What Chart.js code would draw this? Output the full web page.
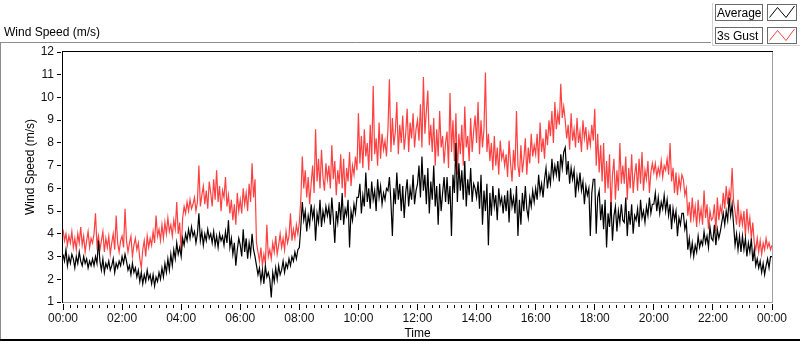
<!DOCTYPE html>
<html>
<head>
<meta charset="utf-8">
<script src="https://cdn.jsdelivr.net/npm/chart.js@4.4.1/dist/chart.umd.min.js"></script>
<style>
  html, body { margin:0; padding:0; background:#fff; overflow:hidden; }
  canvas { display:block; }
</style>
</head>
<body>
<canvas id="wind" width="800" height="342"></canvas>
<script>
// Wind speed over one day, one sample every 3 minutes (00:00 -> 24:00)
const STEP_MIN = 3;

// average wind speed (m/s), one row per hour
const avgSpeed = [
  3.1, 2.8, 3.3, 2.6, 3.0, 2.7, 3.1, 2.9, 2.5, 3.0, 2.7, 3.2, 2.8, 2.6, 3.0, 2.7, 2.9, 2.5, 2.8, 2.6,
  2.9, 2.6, 3.0, 2.7, 3.7, 2.8, 2.4, 2.9, 2.3, 2.7, 2.5, 2.8, 2.4, 2.6, 2.9, 2.3, 2.7, 2.5, 2.8, 2.6,
  3.0, 2.7, 3.1, 2.8, 2.4, 2.6, 2.2, 2.7, 2.3, 2.5, 2.1, 2.4, 1.9, 2.3, 1.8, 2.2, 1.9, 2.4, 2.0, 2.2,
  1.8, 2.2, 1.7, 2.1, 1.9, 2.3, 2.0, 2.5, 2.1, 2.7, 2.3, 2.9, 2.4, 3.1, 2.6, 3.3, 2.9, 3.6, 3.1, 3.4,
  3.0, 3.8, 3.5, 4.0, 3.7, 4.2, 3.8, 4.3, 3.9, 4.1, 3.6, 4.0, 4.9, 3.7, 4.1, 3.5, 4.0, 3.7, 4.2, 3.8,
  4.0, 3.6, 4.1, 3.5, 3.9, 3.4, 4.0, 3.7, 3.9, 3.5, 4.1, 3.6, 4.6, 3.4, 3.8, 3.1, 3.6, 2.6, 3.3, 3.8,
  3.5, 3.0, 4.2, 3.2, 3.8, 2.9, 3.6, 3.1, 4.0, 3.3, 3.0, 2.6, 2.2, 2.5, 1.9, 2.4, 1.8, 2.6, 2.1, 2.3,
  2.0, 1.2, 2.3, 1.9, 2.5, 2.0, 2.6, 2.2, 2.4, 2.8, 2.3, 2.7, 2.5, 2.9, 2.6, 3.0, 2.8, 3.2, 2.9, 3.3,
  3.4, 4.3, 5.4, 4.6, 5.0, 4.1, 4.8, 4.4, 5.3, 4.7, 5.1, 3.7, 4.9, 4.5, 5.5, 4.3, 5.0, 4.6, 5.2, 4.8,
  5.2, 4.4, 5.6, 4.7, 3.6, 5.0, 4.5, 5.4, 4.6, 5.8, 4.4, 5.1, 4.8, 5.5, 3.4, 5.0, 4.6, 5.3, 4.9, 5.6,
  5.6, 6.2, 4.9, 5.7, 5.2, 6.7, 5.4, 6.0, 5.1, 6.3, 5.5, 5.9, 5.0, 6.4, 5.6, 6.1, 5.3, 5.8, 5.5, 6.0,
  5.9, 6.5, 5.4, 3.9, 6.0, 5.3, 6.7, 5.5, 6.2, 5.0, 6.1, 4.7, 5.8, 6.4, 5.2, 6.0, 5.5, 6.6, 5.3, 5.9,
  6.2, 7.0, 5.6, 7.4, 5.9, 6.6, 5.3, 6.9, 4.9, 6.3, 5.5, 7.0, 5.2, 6.1, 4.4, 6.2, 5.0, 5.8, 6.5, 5.4,
  6.5, 5.3, 6.1, 3.9, 6.6, 5.8, 8.0, 5.4, 7.1, 5.9, 6.8, 5.5, 7.2, 5.2, 6.4, 5.7, 6.9, 5.4, 6.2, 6.0,
  5.6, 6.3, 5.1, 6.6, 4.4, 5.9, 5.0, 6.2, 3.5, 5.8, 4.8, 6.1, 5.2, 5.7, 4.6, 6.0, 5.3, 5.6, 4.9, 5.7,
  5.0, 5.9, 4.5, 6.0, 5.2, 5.6, 4.9, 6.1, 3.9, 5.5, 4.4, 5.8, 5.0, 6.1, 5.1, 4.7, 5.6, 5.2, 5.9, 5.4,
  6.0, 5.5, 6.6, 5.8, 6.2, 5.6, 6.4, 6.9, 6.0, 6.6, 6.2, 7.3, 6.5, 7.0, 6.6, 7.2, 6.3, 7.5, 6.9, 7.6,
  7.8, 6.6, 7.2, 6.2, 6.9, 6.4, 6.8, 5.6, 6.5, 6.0, 6.7, 5.9, 6.3, 5.3, 6.1, 5.7, 6.0, 3.9, 5.8, 6.4,
  6.4, 4.0, 5.6, 5.9, 4.6, 5.3, 4.2, 5.5, 3.4, 4.9, 4.3, 5.4, 3.7, 4.8, 5.2, 4.1, 5.0, 4.5, 5.3, 4.6,
  4.5, 5.6, 3.9, 5.0, 4.4, 5.3, 4.0, 4.8, 4.6, 5.1, 4.3, 5.5, 4.7, 5.0, 4.5, 5.2, 4.8, 5.6, 4.9, 5.3,
  5.3, 5.8, 5.0, 5.6, 4.9, 5.4, 5.1, 5.7, 5.0, 5.5, 4.8, 5.3, 4.2, 5.1, 4.6, 5.0, 3.9, 4.7, 4.4, 4.9,
  4.9, 4.2, 4.5, 3.3, 3.8, 3.1, 3.6, 3.0, 3.5, 3.2, 3.9, 3.4, 3.7, 3.5, 4.1, 3.6, 3.9, 3.4, 4.3, 3.8,
  3.7, 4.4, 3.5, 4.2, 3.8, 4.1, 4.5, 4.9, 4.4, 5.0, 4.6, 5.6, 4.8, 5.3, 4.4, 3.5, 4.0, 3.3, 3.9, 3.2,
  3.9, 3.3, 3.8, 3.0, 3.6, 3.2, 3.8, 2.8, 3.3, 2.6, 2.9, 2.5, 2.8, 2.3, 2.7, 2.2, 2.6, 2.9, 2.5, 3.0,
  3.0
];

// 3 second gust (m/s), one row per hour
const gustSpeed = [
  4.2, 3.7, 4.0, 3.5, 3.9, 3.6, 4.1, 3.4, 3.8, 3.3, 4.0, 3.6, 4.3, 3.5, 3.9, 3.2, 3.7, 4.1, 3.4, 3.8,
  3.6, 4.0, 4.9, 3.5, 3.9, 3.3, 3.7, 4.1, 3.2, 3.8, 3.4, 3.9, 3.1, 3.6, 4.0, 3.3, 4.8, 3.6, 3.2, 3.7,
  3.9, 3.4, 5.1, 3.7, 3.2, 3.6, 3.9, 3.0, 3.5, 3.8, 3.3, 3.6, 2.9, 2.5, 3.3, 3.7, 3.0, 3.9, 3.4, 3.8,
  3.5, 4.1, 3.6, 4.8, 3.9, 4.2, 3.7, 4.4, 3.8, 4.5, 4.0, 4.7, 4.1, 4.4, 3.9, 4.6, 4.2, 5.4, 4.0, 4.5,
  3.2, 4.7, 5.2, 4.9, 5.4, 5.0, 5.5, 5.1, 5.3, 5.6, 5.0, 5.4, 7.0, 5.2, 5.7, 6.1, 5.3, 5.9, 5.1, 6.3,
  5.8, 5.2, 6.4, 5.5, 6.8, 5.4, 6.1, 5.0, 5.9, 5.6, 6.5, 5.2, 5.7, 4.9, 5.5, 4.6, 5.3, 4.4, 5.8, 5.0,
  5.5, 4.9, 6.0, 5.3, 5.8, 5.0, 6.2, 5.4, 7.1, 5.6, 6.4, 3.6, 3.2, 2.8, 3.4, 2.6, 3.1, 2.7, 4.4, 3.0,
  3.3, 2.9, 3.6, 3.2, 3.9, 3.1, 3.5, 4.0, 3.4, 3.8, 3.3, 4.1, 3.6, 3.9, 4.9, 3.7, 4.2, 3.8, 4.4, 4.0,
  4.5, 5.5, 7.4, 6.0, 6.8, 5.6, 6.5, 5.3, 6.2, 7.0, 5.8, 8.6, 6.3, 7.3, 6.0, 7.7, 6.5, 5.9, 7.1, 6.4,
  7.0, 6.0, 7.9, 6.4, 7.2, 5.7, 6.8, 6.2, 7.5, 6.0, 7.3, 5.6, 6.9, 6.3, 7.6, 6.1, 7.0, 6.6, 7.4, 6.8,
  9.3, 7.1, 8.3, 6.9, 8.6, 7.4, 8.0, 6.8, 8.8, 7.2, 10.5, 7.5, 8.2, 7.0, 8.9, 7.3, 8.4, 7.7, 8.1, 7.4,
  8.6, 10.8, 7.6, 9.1, 7.9, 8.5, 9.8, 7.5, 8.8, 8.0, 9.2, 7.7, 8.4, 9.5, 7.6, 8.9, 8.2, 9.3, 7.8, 8.6,
  9.0, 8.1, 9.7, 7.8, 10.9, 8.4, 9.4, 10.3, 7.9, 8.8, 7.6, 9.1, 7.0, 8.6, 7.4, 9.4, 7.8, 8.3, 7.1, 8.0,
  8.5, 6.9, 10.2, 7.6, 9.0, 7.2, 9.3, 6.6, 8.4, 7.5, 8.8, 7.0, 9.6, 7.8, 8.3, 7.2, 9.1, 7.6, 8.5, 9.2,
  8.0, 9.8, 7.5, 9.0, 7.8, 8.6, 11.1, 7.6, 8.4, 7.2, 8.0, 6.8, 8.3, 7.0, 7.8, 6.6, 8.1, 7.3, 7.6, 7.0,
  7.5, 6.5, 8.1, 7.1, 6.3, 7.7, 6.8, 9.4, 7.0, 6.5, 7.9, 6.7, 7.3, 8.2, 6.6, 7.8, 7.1, 8.4, 7.4, 7.9,
  7.5, 8.4, 7.1, 8.9, 7.6, 8.2, 7.3, 8.6, 7.9, 9.0, 8.3, 9.4, 8.0, 9.8, 8.6, 9.3, 8.8, 10.6, 9.1, 9.6,
  9.0, 8.2, 8.8, 7.7, 9.3, 8.1, 8.6, 7.8, 9.1, 8.0, 8.5, 7.6, 9.0, 8.2, 8.7, 7.7, 8.4, 7.9, 8.8, 8.1,
  9.5, 7.0, 8.4, 6.7, 7.9, 6.3, 8.0, 5.8, 7.2, 6.0, 7.5, 5.0, 6.6, 7.3, 5.5, 6.8, 5.9, 8.0, 6.2, 7.0,
  6.2, 7.4, 5.5, 6.9, 6.0, 7.5, 5.8, 6.6, 7.1, 5.9, 7.3, 6.2, 7.6, 5.9, 6.8, 6.4, 7.2, 5.8, 6.7, 7.1,
  6.7, 7.1, 6.5, 6.9, 6.6, 7.2, 6.5, 7.0, 6.8, 7.3, 6.6, 8.0, 6.3, 6.9, 5.8, 6.7, 5.7, 6.5, 6.0, 6.6,
  6.4, 5.7, 6.0, 4.8, 5.4, 4.5, 5.6, 4.7, 5.2, 4.3, 5.5, 4.6, 5.1, 4.4, 5.9, 4.7, 5.3, 4.2, 5.0, 4.6,
  4.7, 5.3, 4.1, 5.6, 4.6, 5.2, 4.9, 5.8, 5.1, 6.1, 5.3, 5.9, 5.5, 6.9, 5.4, 5.0, 4.4, 5.5, 4.3, 4.9,
  4.4, 5.0, 3.9, 5.1, 4.2, 4.7, 3.8, 4.5, 3.6, 3.3, 3.8, 3.2, 3.7, 3.1, 3.6, 3.3, 3.8, 3.4, 3.6, 3.3,
  3.5
];

const seriesNames = ['Average', '3s Gust'];
const seriesColors = ['#000000', '#ff4040'];
const yTicks = [1, 2, 3, 4, 5, 6, 7, 8, 9, 10, 11, 12];
const xTickHours = [0, 2, 4, 6, 8, 10, 12, 14, 16, 18, 20, 22, 24];

const FONT = '"Liberation Sans", Arial, sans-serif';
Chart.defaults.font.family = FONT;
Chart.defaults.font.size = 12;
Chart.defaults.color = '#111';

const hours = avgSpeed.map((_, i) => i * STEP_MIN / 60);
const fmtHour = h => String(h % 24).padStart(2, '0') + ':00';

function seg(c, x1, y1, x2, y2){
  c.beginPath(); c.moveTo(x1, y1); c.lineTo(x2, y2); c.stroke();
}

// LabVIEW-like frame, caption, legend and tick marks
const lvFrame = {
  id: 'lvFrame',
  beforeDraw(chart){
    const c = chart.ctx;
    c.save(); c.fillStyle = '#fff'; c.fillRect(0, 0, chart.width, chart.height); c.restore();
  },
  afterDraw(chart){
    const c = chart.ctx, xs = chart.scales.x, ys = chart.scales.y;
    c.save();
    c.lineWidth = 1;

    // outer panel
    c.strokeStyle = '#8c8c8c';
    seg(c, 0, 42.5, 711, 42.5);
    seg(c, 0.5, 42, 0.5, 340);
    c.strokeStyle = '#000'; c.lineWidth = 2;
    seg(c, 0, 340, 800, 340);
    c.lineWidth = 1;

    // graph caption
    c.fillStyle = '#000';
    c.font = '12px ' + FONT;
    c.textAlign = 'left'; c.textBaseline = 'alphabetic';
    c.fillText('Wind Speed (m/s)', 4, 36);

    // legend panel
    c.strokeStyle = '#d0d0d0';
    seg(c, 712.5, 3, 712.5, 46);
    seg(c, 712, 45.5, 800, 45.5);
    seriesNames.forEach((name, i) => {
      const top = 4.5 + i * 23;
      c.strokeStyle = '#6a6a6a';
      c.strokeRect(715.5, top, 47, 16);
      c.strokeRect(767.5, top, 29, 16);
      c.fillStyle = '#000';
      c.fillText(name, 717, top + 12.5);
      c.strokeStyle = seriesColors[i];
      c.beginPath();
      c.moveTo(769.5, top + 13); c.lineTo(777.5, top + 3);
      c.lineTo(786, top + 13); c.lineTo(794.5, top + 1.5);
      c.stroke();
    });

    // plot frame
    c.strokeStyle = '#000';
    seg(c, 62, 51.5, 773, 51.5);
    seg(c, 62.5, 51, 62.5, 303);
    c.strokeStyle = '#a0a0a0';
    seg(c, 772.5, 52, 772.5, 303);
    seg(c, 63, 302.5, 773, 302.5);

    // x tick marks, minor every 15 min
    c.strokeStyle = '#000';
    for (let m = 0; m <= 24 * 60; m += 15) {
      const px = Math.floor(xs.getPixelForValue(m / 60)) + 0.5;
      if (m % 120 === 0) seg(c, px, 304, px, 310);
      else seg(c, px, 305, px, 308);
    }
    // y tick marks
    yTicks.forEach(v => {
      const py = Math.floor(ys.getPixelForValue(v)) + 0.5;
      seg(c, 57, py, 61, py);
    });

    // y axis title
    c.translate(31, 167);
    c.rotate(-Math.PI / 2);
    c.textAlign = 'center'; c.textBaseline = 'middle';
    c.fillStyle = '#000';
    c.fillText('Wind Speed (m/s)', 0, 0);
    c.restore();
  }
};

new Chart(document.getElementById('wind'), {
  type: 'line',
  data: {
    datasets: [
      { label: seriesNames[0], data: hours.map((h, i) => ({ x: h, y: avgSpeed[i] })),
        borderColor: seriesColors[0], borderWidth: 1.2, pointRadius: 0, tension: 0 },
      { label: seriesNames[1], data: hours.map((h, i) => ({ x: h, y: gustSpeed[i] })),
        borderColor: seriesColors[1], borderWidth: 1.2, pointRadius: 0, tension: 0 }
    ]
  },
  options: {
    responsive: false,
    animation: false,
    devicePixelRatio: 1,
    layout: { padding: { top: 52, right: 28, left: 0, bottom: 0 } },
    plugins: { legend: { display: false }, title: { display: false }, tooltip: { enabled: false } },
    scales: {
      x: {
        type: 'linear', min: 0, max: 24,
        afterFit(s){ s.height = 40; },
        afterBuildTicks(s){ s.ticks = xTickHours.map(v => ({ value: v })); },
        grid: { display: false, drawTicks: false },
        border: { display: false },
        ticks: { autoSkip: false, maxRotation: 0, padding: 9, callback: v => fmtHour(v) },
        title: { display: true, text: 'Time', color: '#000', padding: { top: 0, bottom: 1 } }
      },
      y: {
        min: 1, max: 12,
        afterFit(s){ s.width = 63; },
        afterBuildTicks(s){ s.ticks = yTicks.map(v => ({ value: v })); },
        grid: { display: false, drawTicks: false },
        border: { display: false },
        ticks: { padding: 9 }
      }
    }
  },
  plugins: [lvFrame]
});
</script>
</body>
</html>
